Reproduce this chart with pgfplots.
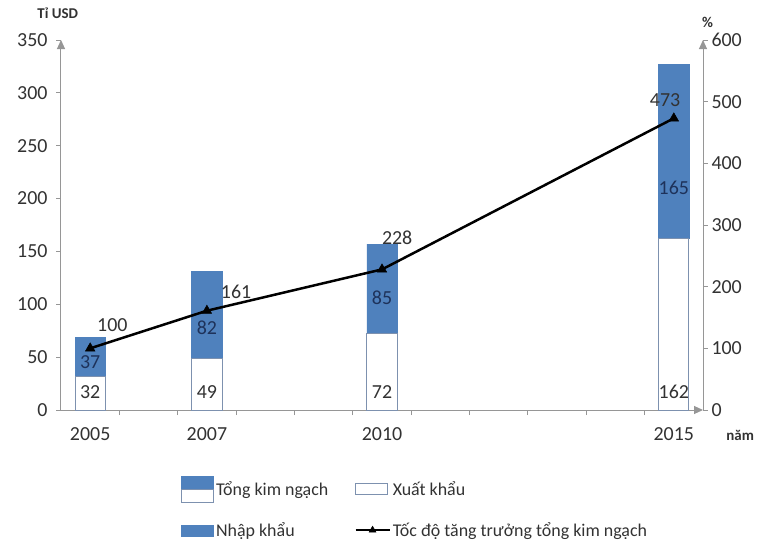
\documentclass[border=0pt]{standalone}
\usepackage{pgfplots}
\pgfplotsset{compat=1.18}
\usepackage{fontspec}
\setmainfont{Carlito}
\usetikzlibrary{arrows.meta}
\definecolor{barblue}{RGB}{79,129,189}
\definecolor{edgeblue}{RGB}{125,145,175}
\definecolor{axgray}{RGB}{150,150,150}
\definecolor{txtgray}{RGB}{50,50,50}
\definecolor{lbldark}{RGB}{30,50,90}
\begin{document}
\begin{tikzpicture}
\pgfplotsset{
  every axis/.append style={font=\fontsize{20}{24}\selectfont},
  base/.style={
    scale only axis, width=642bp, height=370bp,
    xmin=2004.5, xmax=2015.5,
    /pgf/number format/assume math mode=true,
    tick label style={txtgray},
    axis line style={axgray, line width=1bp, -{Triangle[width=8bp,length=9bp]}},
    tick style={axgray, line width=0.8bp},
    tick align=outside,
    major tick length=5bp, minor tick length=5bp,
  }
}
\begin{axis}[base,
  ymin=0, ymax=350,
  axis x line*=bottom, axis y line*=left,
  ybar stacked, bar width=0.52,
  ytick={0,50,...,350},
  xtick={2005,2007,2010,2015},
  xticklabel style={/pgf/number format/1000 sep=},
  minor xtick={2005.5,2006.5,...,2014.5},
  major x tick style={draw=none},
  xticklabel style={yshift=-9bp},
  yticklabel style={xshift=-5bp},
  clip=false,
]
\addplot[fill=white, draw=edgeblue, line width=1bp] coordinates {(2005,32)(2007,49)(2010,72)(2015,162)};
\addplot[fill=barblue, draw=barblue, line width=0.5bp] coordinates {(2005,37)(2007,82)(2010,85)(2015,165)};
\coordinate (O) at (rel axis cs:0,0);
% axis titles
\node[font=\fontsize{15}{18}\selectfont\bfseries, txtgray] at (axis description cs:-0.005,1.072) {Tỉ USD};
\node[font=\fontsize{15}{18}\selectfont\bfseries, txtgray] at (axis description cs:1.007,1.047) {\%};
\node[font=\fontsize{15}{18}\selectfont\bfseries, txtgray] at (axis description cs:1.058,-0.07) {năm};
\end{axis}
\begin{axis}[base,
  ymin=0, ymax=600,
  axis x line=none, axis y line*=right,
  ytick={0,100,...,600},
  clip=false,
  legend style={at={(axis description cs:0.182,-0.172)}, anchor=north west,
    draw=none, fill=none, legend columns=2, row sep=18bp,
    font=\fontsize{18}{21}\selectfont, text=txtgray,
    /tikz/every even column/.append style={column sep=24bp}},
  legend cell align=left,
]
\addlegendimage{legend image code/.code={\fill[barblue] (0bp,0bp) rectangle (32bp,13bp); \draw[edgeblue,fill=white,line width=1bp] (0bp,-13bp) rectangle (32bp,0bp);}}
\addlegendentry{Tổng kim ngạch}
\addlegendimage{legend image code/.code={\draw[edgeblue,fill=white,line width=1bp] (0bp,-5.5bp) rectangle (32bp,5.5bp);}}
\addlegendentry{Xuất khẩu}
\addlegendimage{legend image code/.code={\fill[barblue] (0bp,-5.5bp) rectangle (32bp,5.5bp);}}
\addlegendentry{Nhập khẩu}
\addplot[black, line width=2.5bp, mark=triangle*, mark size=5.5bp, mark options={fill=black, line width=0.5bp},
  legend image code/.code={\draw[mark repeat=2,mark phase=2, line width=2.5bp, mark size=4bp] plot coordinates {(0bp,0bp) (17bp,0bp) (34bp,0bp)};}]
  coordinates {(2005,100)(2007,161)(2010,228)(2015,473)};
\addlegendentry{Tốc độ tăng trưởng tổng kim ngạch}
% bar value labels (positions in right-axis units = left value * 600/350)
\node[txtgray] at (axis cs:2005,28.5) {32};
\node[txtgray] at (axis cs:2007,28.5) {49};
\node[txtgray] at (axis cs:2010,28.5) {72};
\node[txtgray] at (axis cs:2015,29) {162};
\node[lbldark] at (axis cs:2005,77) {37};
\node[lbldark] at (axis cs:2007,134) {82};
\node[lbldark] at (axis cs:2010,182) {85};
\node[lbldark] at (axis cs:2015,360) {165};
% line value labels
\node[txtgray] at (axis cs:2005.38,138) {100};
\node[txtgray] at (axis cs:2007.5,191) {161};
\node[txtgray] at (axis cs:2010.26,280) {228};
\node[txtgray] at (axis cs:2014.85,503) {473};
\end{axis}
\pgfresetboundingbox
\path[use as bounding box] (O) ++(-61bp,-139bp) rectangle ++(783bp,549bp);
\end{tikzpicture}
\end{document}
